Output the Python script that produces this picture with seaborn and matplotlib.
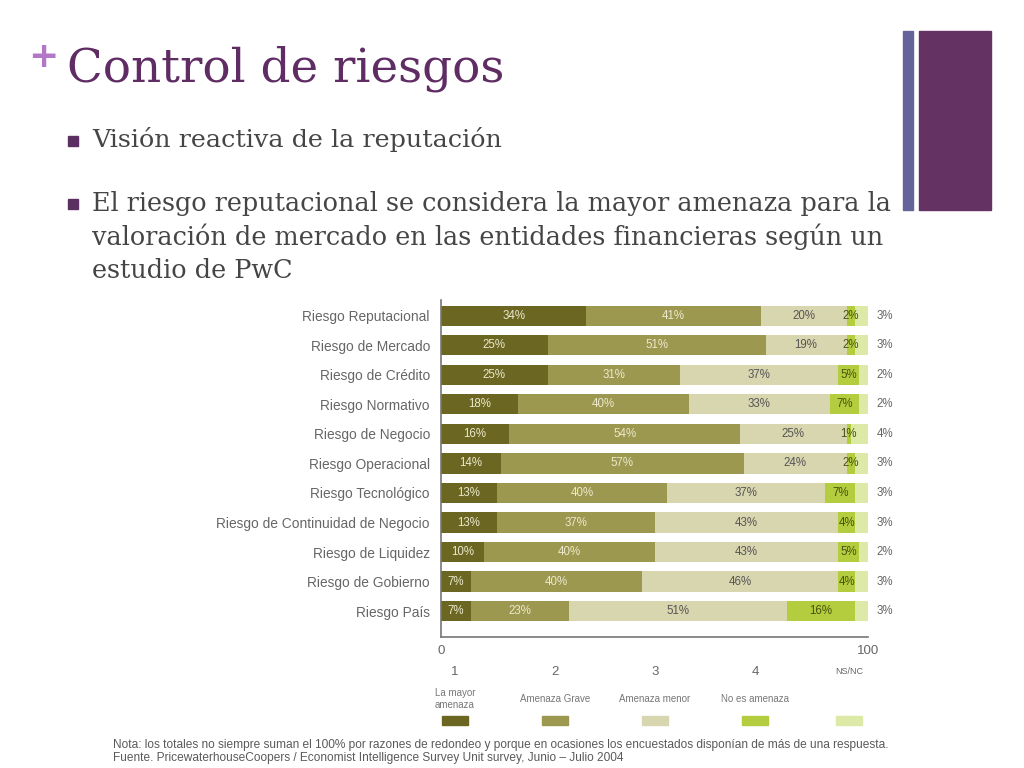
import matplotlib
matplotlib.use("Agg")
import matplotlib.pyplot as plt
import matplotlib.patches as mpatches
import numpy as np
import pandas as pd
import seaborn as sns

# ---------------- data ----------------
categories = [
    "Riesgo Reputacional", "Riesgo de Mercado", "Riesgo de Crédito",
    "Riesgo Normativo", "Riesgo de Negocio", "Riesgo Operacional",
    "Riesgo Tecnológico", "Riesgo de Continuidad de Negocio",
    "Riesgo de Liquidez", "Riesgo de Gobierno", "Riesgo País",
]
mayor_amenaza = [34, 25, 25, 18, 16, 14, 13, 13, 10, 7, 7]
amenaza_grave = [41, 51, 31, 40, 54, 57, 40, 37, 40, 40, 23]
amenaza_menor = [20, 19, 37, 33, 25, 24, 37, 43, 43, 46, 51]
no_amenaza    = [2, 2, 5, 7, 1, 2, 7, 4, 5, 4, 16]
ns_nc         = [3, 3, 2, 2, 4, 3, 3, 3, 2, 3, 3]

legend_numbers = ["1", "2", "3", "4", "NS/NC"]
legend_names = ["La mayor\namenaza", "Amenaza Grave", "Amenaza menor", "No es amenaza", ""]
x_ticks = [0, 100]

title = "Control de riesgos"
bullet1 = "Visión reactiva de la reputación"
bullet2 = ["El riesgo reputacional se considera la mayor amenaza para la",
           "valoración de mercado en las entidades financieras según un",
           "estudio de PwC"]
note_lines = [
    "Nota: los totales no siempre suman el 100% por razones de redondeo y porque en ocasiones los encuestados disponían de más de una respuesta.",
    "Fuente. PricewaterhouseCoopers / Economist Intelligence Survey Unit survey, Junio – Julio 2004",
]

# ---------------- style ----------------
seg_colors = ["#6b6722", "#9d9850", "#d8d6ae", "#b3cd3e", "#dde9a6"]
seg_text_colors = ["#ece8cc", "#ece8cc", "#555555", "#46540f", "#666666"]
chart_font = ["Liberation Sans Narrow", "Liberation Sans", "DejaVu Sans"]
W, H = 1024, 768

sns.set_theme(style="white")
plt.rcParams["font.family"] = ["DejaVu Sans"]

fig = plt.figure(figsize=(W / 100, H / 100), dpi=100)
fig.patch.set_facecolor("white")

def fx(x):
    return x / W

def fy(y):
    return 1 - y / H

# ---------------- slide text ----------------
fig.text(fx(28), fy(57), "+", color="#b476c6", fontsize=26, fontweight="bold",
         family="DejaVu Sans", va="center", ha="left")
fig.text(fx(67), fy(69), title, color="#5f2c64", fontsize=33.7,
         family="DejaVu Serif", va="center", ha="left")

body_color = "#454545"
fig.patches.append(mpatches.Rectangle((fx(68), fy(146)), 10 / W, 10 / H,
                                      transform=fig.transFigure, color="#5c2f62"))
fig.text(fx(92), fy(140), bullet1, color=body_color, fontsize=18.3,
         family="DejaVu Serif", va="center", ha="left")
fig.patches.append(mpatches.Rectangle((fx(68), fy(209)), 10 / W, 10 / H,
                                      transform=fig.transFigure, color="#5c2f62"))
for i, line in enumerate(bullet2):
    fig.text(fx(92), fy(203 + i * 34), line, color=body_color, fontsize=18.4,
             family="DejaVu Serif", va="center", ha="left")

# right decoration
fig.patches.append(mpatches.Rectangle((fx(903), fy(210)), 10 / W, 179 / H,
                                      transform=fig.transFigure, color="#65649a"))
fig.patches.append(mpatches.Rectangle((fx(919), fy(210)), 72 / W, 179 / H,
                                      transform=fig.transFigure, color="#653264"))

# ---------------- chart ----------------
ax = fig.add_axes([fx(441), fy(637), (868 - 441) / W, (637 - 300) / H])
ax.set_facecolor("white")

series = [mayor_amenaza, amenaza_grave, amenaza_menor, no_amenaza, ns_nc]
cum = np.cumsum(np.array(series, dtype=float), axis=0)
starts = cum - np.array(series, dtype=float)

for k in range(len(series) - 1, -1, -1):
    df = pd.DataFrame({"cat": categories, "val": cum[k]})
    sns.barplot(data=df, x="val", y="cat", orient="h", color=seg_colors[k],
                saturation=1, width=0.68, ax=ax, linewidth=0)

for k in range(len(series)):
    for i in range(len(categories)):
        v = series[k][i]
        if k == len(series) - 1:
            xpos = 100 + 4
        else:
            xpos = starts[k][i] + v / 2
        ax.text(xpos, i, f"{v}%", color=seg_text_colors[k], fontsize=8.3,
                ha="center", va="center", family=chart_font, clip_on=False)

ax.set_xlim(0, 100)
ax.set_ylim(len(categories) - 1 + 0.88, -0.54)
ax.set_xticks(x_ticks)
ax.set_xticklabels([str(t) for t in x_ticks])
ax.set_xlabel("")
ax.set_ylabel("")
ax.tick_params(axis="y", length=0, pad=8, labelsize=9.9, labelcolor="#666666")
ax.tick_params(axis="x", direction="in", length=7, width=1.2, color="#777777",
               pad=6, labelsize=9.5, labelcolor="#666666")
for lab in ax.get_yticklabels() + ax.get_xticklabels():
    lab.set_family(chart_font)
for s in ["top", "right"]:
    ax.spines[s].set_visible(False)
for s in ["left", "bottom"]:
    ax.spines[s].set_color("#777777")
    ax.spines[s].set_linewidth(1.2)
ax.grid(False)

# ---------------- legend ----------------
leg_x = [455, 555, 655, 755, 849]
for j in range(len(legend_numbers)):
    is_ns = legend_numbers[j] == "NS/NC"
    fig.text(fx(leg_x[j]), fy(672), legend_numbers[j], color="#666666",
             fontsize=6.5 if is_ns else 9.5, ha="center", va="center", family=chart_font)
    if legend_names[j]:
        fig.text(fx(leg_x[j]), fy(699), legend_names[j], color="#777777",
                 fontsize=7, ha="center", va="center", family=chart_font,
                 linespacing=1.25)
    fig.patches.append(mpatches.Rectangle((fx(leg_x[j] - 13), fy(725)), 26 / W, 9 / H,
                                          transform=fig.transFigure,
                                          color=seg_colors[j]))

for i, line in enumerate(note_lines):
    fig.text(fx(113), fy(745 + i * 13), line, color="#5a5a5a", fontsize=8.6,
             ha="left", va="center", family=chart_font)

fig.savefig("out.png", dpi=100, facecolor="white")
